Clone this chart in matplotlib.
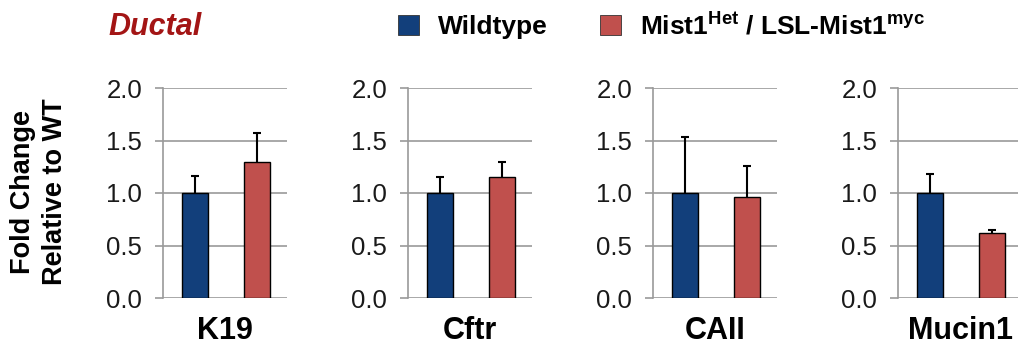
import matplotlib
matplotlib.use("Agg")
import matplotlib.pyplot as plt
from matplotlib.patches import Patch

plt.rcParams['font.family'] = 'Liberation Sans'
plt.rcParams['mathtext.fontset'] = 'custom'
plt.rcParams['mathtext.rm'] = 'Liberation Sans:bold'
plt.rcParams['mathtext.bf'] = 'Liberation Sans:bold'

# data
genes = ["K19", "Cftr", "CAII", "Mucin1"]
groups = ["Wildtype", "Mist1$^{\\mathbf{Het}}$ / LSL-Mist1$^{\\mathbf{myc}}$"]
wt_mean = [1.0, 1.0, 1.0, 1.0]
wt_err = [0.16, 0.15, 0.53, 0.18]
mut_mean = [1.30, 1.15, 0.96, 0.62]
mut_err = [0.27, 0.15, 0.30, 0.03]
yticks = [0.0, 0.5, 1.0, 1.5, 2.0]

blue = '#123F7B'
red = '#C0504D'
grey = '#9A9A9A'

W, H = 1018, 350
fig = plt.figure(figsize=(W / 100, H / 100), dpi=100)

lefts = [163, 408, 653, 898]
for i, gene in enumerate(genes):
    ax = fig.add_axes([lefts[i] / W, 1 - 298 / H, 124 / W, 210 / H])
    vals = [wt_mean[i], mut_mean[i]]
    errs = [[0, 0], [wt_err[i], mut_err[i]]]
    ax.bar([0, 1], vals, width=0.42, color=[blue, red], edgecolor='black',
           linewidth=1.0, zorder=3)
    eb = ax.errorbar([0, 1], vals, yerr=errs, fmt='none', ecolor='black',
                     elinewidth=1.5, capsize=3.2, capthick=1.5, zorder=4)
    # only the upper cap is shown
    eb[1][0].set_visible(False)
    ax.set_xlim(-0.516, 1.484)
    ax.set_ylim(0, 2.0)
    ax.set_yticks(yticks)
    ax.set_yticklabels([f"{t:.1f}" for t in yticks])
    ax.set_xticks([])
    ax.grid(axis='y', color=grey, linewidth=1.2, zorder=0)
    for s in ['top', 'right', 'bottom']:
        ax.spines[s].set_visible(False)
    ax.spines['left'].set_color(grey)
    ax.spines['left'].set_linewidth(1.2)
    ax.tick_params(axis='y', length=6, width=1.2, color=grey, pad=9,
                   labelsize=18.5, labelcolor='#1a1a1a')
    ax.set_xlabel(gene, fontsize=22, fontweight='bold', labelpad=13)

fig.text(39 / W, 1 - 192 / H, "Fold Change\nRelative to WT", rotation=90,
         ha='center', va='center', multialignment='center',
         fontsize=19.5, fontweight='bold', linespacing=1.3)

fig.text(108 / W, 1 - 35 / H, "Ductal", color='#A31515', fontsize=22,
         fontweight='bold', fontstyle='italic', va='baseline')

handles = [Patch(facecolor=blue, edgecolor='#333333', linewidth=0.6),
           Patch(facecolor=red, edgecolor='#333333', linewidth=0.6)]
fig.legend(handles, groups, loc='upper left', bbox_to_anchor=(398 / W, 1 - 11 / H),
           ncol=2, frameon=False, prop={'size': 19, 'weight': 'bold'},
           handlelength=0.8, handleheight=0.8, handletextpad=0.7,
           columnspacing=2.0, borderpad=0, borderaxespad=0)

fig.savefig("out.png", dpi=100, facecolor='white')
